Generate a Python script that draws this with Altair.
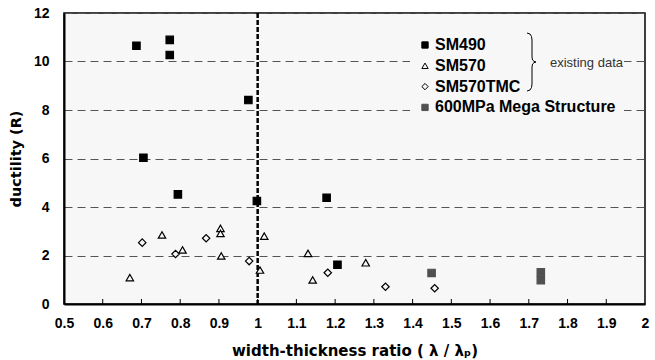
import altair as alt
import pandas as pd

SERIES = ["SM490", "SM570", "SM570TMC", "600MPa Mega Structure"]

SM490_X = [0.687, 0.773, 0.773, 0.976, 0.705, 0.794, 0.998, 1.178, 1.206]
SM490_Y = [10.65, 10.89, 10.27, 8.41, 6.03, 4.52, 4.25, 4.38, 1.62]

SM570_X = [0.670, 0.753, 0.806, 0.904, 0.904, 0.906, 1.006, 1.017, 1.130, 1.142, 1.279]
SM570_Y = [1.09, 2.85, 2.23, 3.12, 2.91, 1.98, 1.40, 2.80, 2.09, 0.99, 1.70]

TMC_X = [0.702, 0.788, 0.867, 0.978, 1.181, 1.330, 1.457]
TMC_Y = [2.53, 2.06, 2.71, 1.77, 1.29, 0.71, 0.65]

MEGA_X = [1.449, 1.731, 1.731]
MEGA_Y = [1.28, 1.31, 0.98]

XTICKS = [0.5, 0.6, 0.7, 0.8, 0.9, 1.0, 1.1, 1.2, 1.3, 1.4, 1.5, 1.6, 1.7, 1.8, 1.9, 2.0]
YTICKS = [0, 2, 4, 6, 8, 10, 12]
LIMIT_RATIO = [1.0]

rows = []
for name, xs, ys in zip(SERIES, [SM490_X, SM570_X, TMC_X, MEGA_X], [SM490_Y, SM570_Y, TMC_Y, MEGA_Y]):
    rows += [{"series": name, "ratio": x, "R": y} for x, y in zip(xs, ys)]
df = pd.DataFrame(rows)

W, H = 581, 291
LABEL_FONT = "Liberation Sans"
TITLE_FONT = "DejaVu Sans"

xscale = alt.Scale(domain=[0.5, 2.0], nice=False, zero=False)
yscale = alt.Scale(domain=[0, 12], nice=False, zero=True)

xaxis = alt.Axis(values=XTICKS, format="~g", title="width-thickness ratio  ( λ / λₚ)",
                 grid=False, ticks=False, tickSize=0, labelPadding=12,
                 domainColor="black", domainWidth=2,
                 labelFont=LABEL_FONT, labelFontSize=14, labelFontWeight="bold", labelColor="black",
                 titleFont=TITLE_FONT, titleFontSize=15, titleFontWeight="bold", titleColor="black",
                 titlePadding=13, labelFlush=False, labelOverlap=False)
yaxis = alt.Axis(values=YTICKS, format="d", title="ductility (R)",
                 grid=True, gridDash=[8, 5], gridColor="#555555", gridWidth=1,
                 ticks=False, tickSize=0, labelPadding=15,
                 domainColor="black", domainWidth=2,
                 labelFont=LABEL_FONT, labelFontSize=14, labelFontWeight="bold", labelColor="black",
                 titleFont=TITLE_FONT, titleFontSize=14.5, titleFontWeight="bold", titleColor="black",
                 titlePadding=10, labelFlush=False)

base = alt.Chart(df)

# background mask behind legend (hides gridlines)
mask = alt.Chart(pd.DataFrame({"k": [0]})).mark_rect(fill="#f7f7f7").encode(
    x=alt.value(346), x2=alt.value(560), y=alt.value(21), y2=alt.value(104)
)

limit = alt.Chart(pd.DataFrame({"ratio": LIMIT_RATIO})).mark_rule(
    color="black", strokeWidth=2.5, strokeDash=[5, 2]
).encode(x=alt.X("ratio:Q", scale=xscale, axis=xaxis))

ticks = alt.Chart(pd.DataFrame({"ratio": XTICKS[1:-1]})).mark_rule(
    color="black", strokeWidth=1
).encode(x=alt.X("ratio:Q", scale=xscale, axis=xaxis), y=alt.value(H - 5), y2=alt.value(H))

points = base.mark_point(filled=True, size=55, strokeWidth=1.2, opacity=1).encode(
    x=alt.X("ratio:Q", scale=xscale, axis=xaxis),
    y=alt.Y("R:Q", scale=yscale, axis=yaxis),
    shape=alt.Shape("series:N",
                    scale=alt.Scale(domain=SERIES, range=["square", "triangle-up", "diamond", "square"]),
                    legend=alt.Legend(title=None, orient="none", legendX=353, legendY=24,
                                      labelFont=LABEL_FONT, labelFontSize=16, labelFontWeight="bold",
                                      labelColor="black", symbolSize=40, symbolStrokeWidth=1,
                                      rowPadding=4.8, labelOffset=2, padding=0, labelLimit=400)),
    fill=alt.Fill("series:N",
                  scale=alt.Scale(domain=SERIES, range=["black", "#f7f7f7", "#f7f7f7", "#505050"]),
                  legend=alt.Legend(title=None)),
    stroke=alt.Stroke("series:N",
                      scale=alt.Scale(domain=SERIES, range=["black", "black", "black", "#505050"]),
                      legend=alt.Legend(title=None)),
)

# curly brace annotation (decorative path, plot pixel coordinates)
bx, by_top, by_mid, by_bot = 463, 20, 49, 78
brace_pts = [
    (bx, by_top), (bx + 3, by_top + 1), (bx + 4.5, by_top + 3.5), (bx + 5, by_top + 7),
    (bx + 5, by_mid - 5), (bx + 5.5, by_mid - 2), (bx + 7, by_mid - 0.7), (bx + 9, by_mid),
    (bx + 7, by_mid + 0.7), (bx + 5.5, by_mid + 2), (bx + 5, by_mid + 5),
    (bx + 5, by_bot - 7), (bx + 4.5, by_bot - 3.5), (bx + 3, by_bot - 1), (bx, by_bot),
]
brace_df = pd.DataFrame({"i": list(range(len(brace_pts))),
                         "px": [p[0] for p in brace_pts], "py": [p[1] for p in brace_pts]})
brace = alt.Chart(brace_df).mark_line(color="black", strokeWidth=1, interpolate="linear").encode(
    x=alt.X("px:Q", scale=None), y=alt.Y("py:Q", scale=None), order="i:Q"
)

note = alt.Chart(pd.DataFrame({"t": ["existing data"]})).mark_text(
    align="left", baseline="middle", font=LABEL_FONT, fontSize=13, color="#333333"
).encode(text="t:N", x=alt.value(486), y=alt.value(50))

chart = alt.layer(mask, ticks, limit, points, brace, note).resolve_scale(
    x="shared", y="shared"
).properties(
    width=W, height=H,
    autosize=alt.AutoSizeParams(type="none"),
    padding={"left": 64, "top": 13, "right": 10, "bottom": 56},
    background="white",
).configure_view(
    fill="#f7f7f7", stroke="black", strokeWidth=1.5
)

chart.save("out.html", embed_options={"renderer": "svg", "actions": False})
